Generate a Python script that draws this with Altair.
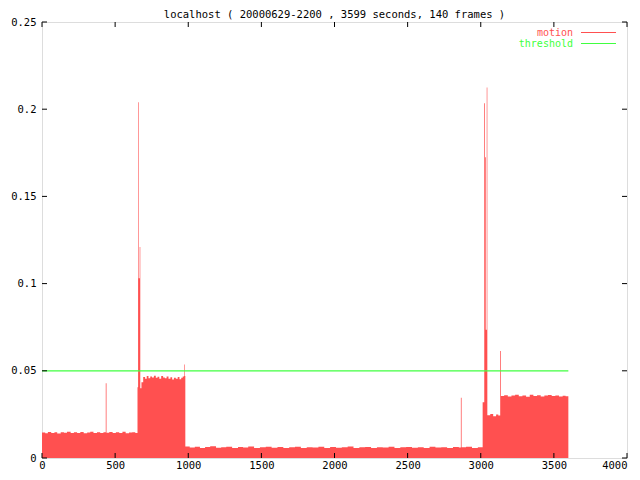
import altair as alt
import pandas as pd

# ---- data ----
seg_a_x = [0, 22, 40, 63, 85, 104, 128, 150, 171, 196, 218, 240, 262, 285, 309, 330, 352, 376, 398, 420, 436, 441, 460, 483, 505, 528, 550, 572, 595, 617, 638]
seg_a_y = [0.0146, 0.0142, 0.0149, 0.0144, 0.0147, 0.0141, 0.0148, 0.0145, 0.0150, 0.0143, 0.0147, 0.0144, 0.0149, 0.0142, 0.0146, 0.0150, 0.0144, 0.0148, 0.0143, 0.0147, 0.0428, 0.0145, 0.0149, 0.0143, 0.0147, 0.0144, 0.0150, 0.0142, 0.0146, 0.0148, 0.0144]

seg_b_x = [653, 657, 661, 668, 672, 680, 692, 705, 716, 728, 740, 752, 765, 778, 790, 802, 815, 828, 840, 852, 865, 878, 890, 902, 915, 928, 940, 952, 962, 971, 975]
seg_b_y = [0.0405, 0.204, 0.103, 0.121, 0.040, 0.0435, 0.0465, 0.0455, 0.0470, 0.0458, 0.0468, 0.0462, 0.0472, 0.0460, 0.0466, 0.0455, 0.0470, 0.0462, 0.0458, 0.0468, 0.0455, 0.0463, 0.0450, 0.0460, 0.0455, 0.0465, 0.0452, 0.0460, 0.0468, 0.0536, 0.0470]

seg_c_x = [980, 1010, 1045, 1080, 1115, 1150, 1190, 1225, 1260, 1300, 1340, 1375, 1410, 1450, 1490, 1530, 1570, 1610, 1650, 1690, 1730, 1770, 1810, 1850, 1890, 1930, 1970, 2010, 2050, 2090, 2130, 2170, 2210, 2250, 2290, 2330, 2370, 2410, 2450, 2490, 2530, 2570, 2610, 2650, 2690, 2730, 2770, 2810, 2850, 2864, 2869, 2900, 2940, 2980]
seg_c_y = [0.0066, 0.0060, 0.0064, 0.0058, 0.0063, 0.0067, 0.0059, 0.0062, 0.0065, 0.0057, 0.0063, 0.0060, 0.0066, 0.0058, 0.0062, 0.0064, 0.0059, 0.0063, 0.0057, 0.0061, 0.0065, 0.0058, 0.0062, 0.0060, 0.0064, 0.0057, 0.0063, 0.0059, 0.0062, 0.0066, 0.0058, 0.0061, 0.0063, 0.0057, 0.0062, 0.0060, 0.0065, 0.0058, 0.0061, 0.0063, 0.0059, 0.0062, 0.0057, 0.0064, 0.0060, 0.0062, 0.0058, 0.0063, 0.0060, 0.0345, 0.0061, 0.0064, 0.0058, 0.0062]

seg_d_x = [3013, 3024, 3029, 3034, 3041, 3045, 3065, 3085, 3105, 3120, 3133, 3138, 3160, 3185, 3210, 3235, 3260, 3285, 3310, 3335, 3360, 3385, 3410, 3435, 3460, 3485, 3510, 3535, 3560, 3580, 3599]
seg_d_y = [0.032, 0.2034, 0.1725, 0.0736, 0.2125, 0.0245, 0.0252, 0.0240, 0.0250, 0.0244, 0.0613, 0.0355, 0.0360, 0.0352, 0.0358, 0.0362, 0.0354, 0.0359, 0.0351, 0.0363, 0.0356, 0.0360, 0.0353, 0.0358, 0.0361, 0.0355, 0.0359, 0.0352, 0.0357, 0.0354, 0.0354]

threshold_value = 0.05
threshold_start = 0
threshold_end = 3599

x_ticks = [0, 500, 1000, 1500, 2000, 2500, 3000, 3500, 4000]
y_ticks = [0, 0.05, 0.1, 0.15, 0.2, 0.25]

legend_names = ["motion", "threshold"]
legend_colors = ["#ff5050", "#40ff40"]
legend_rows = [0, 1]

TITLE = "localhost ( 20000629-2200 , 3599 seconds, 140 frames )"
FONT = "DejaVu Sans Mono"
W, H = 585, 436

motion = pd.DataFrame({
    "x": seg_a_x + seg_b_x + seg_c_x + seg_d_x,
    "y": seg_a_y + seg_b_y + seg_c_y + seg_d_y,
})
thr = pd.DataFrame({"x": [threshold_start], "x2": [threshold_end], "y": [threshold_value]})
xt = pd.DataFrame({"v": x_ticks})
yt = pd.DataFrame({"v": y_ticks})
leg = pd.DataFrame({"name": legend_names, "row": legend_rows})
ttl = pd.DataFrame({"t": [TITLE]})

xs = alt.Scale(domain=[0, 4000], nice=False, zero=False)
ys = alt.Scale(domain=[0, 0.25], nice=False)

xaxis = alt.Axis(values=x_ticks, format="d", ticks=False, domain=False, grid=False,
                 labelFont=FONT, labelFontSize=10.5, labelColor="black", labelPadding=2,
                 labelFlush=False, labelOverlap=False,
                 labelAlign=alt.ConditionalAxisLabelAlign(
                     condition={"test": "datum.value >= 4000", "value": "right"}, value="center"))
yaxis = alt.Axis(values=y_ticks, labelExpr="format(datum.value, '.2~f')", ticks=False,
                 domain=False, grid=False, labelFont=FONT, labelFontSize=10.5,
                 labelColor="black", labelPadding=6, labelFlush=False, labelOverlap=False)

area = alt.Chart(motion).mark_area(interpolate="step-after", color=legend_colors[0], opacity=1).encode(
    x=alt.X("x:Q", scale=xs, axis=xaxis, title=None),
    y=alt.Y("y:Q", scale=ys, axis=yaxis, title=None),
)

thr_line = alt.Chart(thr).mark_rule(color=legend_colors[1], strokeWidth=1.3).encode(
    x=alt.X("x:Q", title=None), x2="x2:Q", y=alt.Y("y:Q", title=None)
)

tick_len = 5
xt_bot = alt.Chart(xt).mark_rule(color="black").encode(
    x=alt.X("v:Q", title=None), y=alt.value(H), y2=alt.value(H - tick_len))
xt_top = alt.Chart(xt).mark_rule(color="black").encode(
    x=alt.X("v:Q", title=None), y=alt.value(0), y2=alt.value(tick_len))
yt_left = alt.Chart(yt).mark_rule(color="black").encode(
    y=alt.Y("v:Q", title=None), x=alt.value(0), x2=alt.value(tick_len))
yt_right = alt.Chart(yt).mark_rule(color="black").encode(
    y=alt.Y("v:Q", title=None), x=alt.value(W), x2=alt.value(W - tick_len))

leg_x_text = 531
leg_y = [10.5, 21.5]
leg_layers = []
for r in legend_rows:
    leg_layers.append(
        alt.Chart(leg).mark_text(align="right", baseline="middle", font=FONT, fontSize=10,
                                 color=legend_colors[r]).encode(
            text="name:N", x=alt.value(leg_x_text), y=alt.value(leg_y[r]),
        ).transform_filter(f"datum.row == {r}")
    )
    leg_layers.append(
        alt.Chart(leg).mark_rule(strokeWidth=1, color=legend_colors[r]).encode(
            x=alt.value(539), x2=alt.value(574), y=alt.value(leg_y[r]),
        ).transform_filter(f"datum.row == {r}")
    )

title_mark = alt.Chart(ttl).mark_text(align="center", baseline="middle", font=FONT,
                                      fontSize=10.5, color="black").encode(
    text="t:N", x=alt.value(W / 2), y=alt.value(-7.5))

chart = alt.layer(
    area, thr_line, xt_bot, xt_top, yt_left, yt_right, *leg_layers, title_mark,
).properties(
    width=W, height=H,
    autosize=alt.AutoSizeParams(type="none"),
    padding={"left": 34, "top": 14, "right": 5, "bottom": 14},
).configure_view(stroke="black", strokeWidth=1).configure(background="white")

chart.save("out.html", embed_options={"renderer": "svg", "actions": False})
